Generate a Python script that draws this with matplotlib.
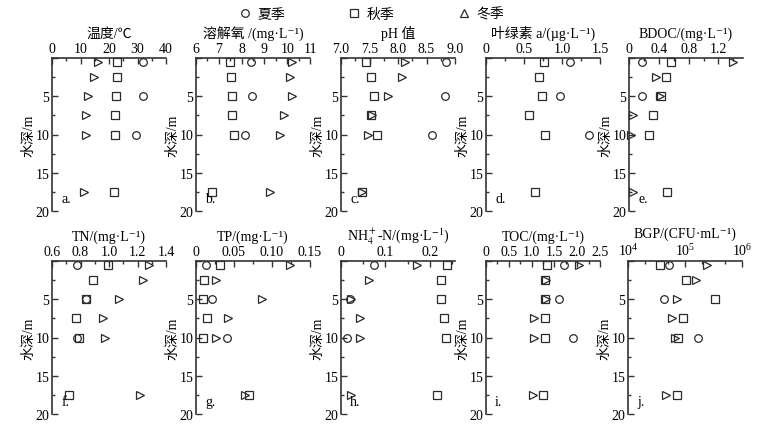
import numpy as np
import matplotlib
matplotlib.use('Agg')
import matplotlib.pyplot as plt
from matplotlib.ticker import MultipleLocator, FixedLocator, LogLocator, NullFormatter
from matplotlib.lines import Line2D

plt.rcParams['font.family'] = ['Liberation Serif', 'Noto Sans CJK SC', 'DejaVu Serif']
plt.rcParams['mathtext.fontset'] = 'stix'
plt.rcParams['font.size'] = 10

# 采样深度 /m
depth_all = [0.5, 2.5, 5, 7.5, 10, 17.5]
depth_sum = [0.5, 5, 10]

# 各指标 夏季(3点) 秋季(6点) 冬季(6点)
temp_sum = [31.8, 31.8, 29.6]
temp_aut = [22.9, 22.8, 22.4, 22.1, 22.1, 21.9]
temp_win = [16.0, 14.6, 12.7, 11.8, 11.8, 11.4]

do_sum = [8.40, 8.44, 8.15]
do_aut = [7.51, 7.53, 7.60, 7.59, 7.67, 6.68]
do_win = [10.23, 10.13, 10.19, 9.88, 9.68, 9.26]

ph_sum = [8.85, 8.83, 8.60]
ph_aut = [7.44, 7.52, 7.58, 7.52, 7.64, 7.36]
ph_win = [8.13, 8.07, 7.82, 7.55, 7.47, 7.37]

chl_sum = [1.10, 0.97, 1.35]
chl_aut = [0.76, 0.70, 0.74, 0.56, 0.77, 0.64]

bdoc_sum = [0.18, 0.18, None]
bdoc_aut = [0.56, 0.50, 0.43, 0.32, 0.27, 0.51]
bdoc_win = [1.40, 0.36, 0.42, 0.06, 0.03, 0.06]

tn_sum = [0.775, 0.836, 0.775]
tn_aut = [0.99, 0.89, 0.84, 0.77, 0.79, 0.72]
tn_win = [1.28, 1.24, 1.07, 0.96, 0.97, 1.22]

tp_sum = [0.0126, 0.0214, 0.041]
tp_aut = [0.0314, 0.0105, 0.0096, 0.014, 0.0096, 0.070]
tp_win = [0.124, 0.0257, 0.087, 0.042, 0.0257, 0.064]

nh4_sum = [0.075, 0.021, 0.013]
nh4_aut = [0.239, 0.225, 0.225, 0.232, 0.237, 0.216]
nh4_win = [0.172, 0.064, 0.023, 0.042, 0.042, 0.023]

toc_sum = [1.70, 1.59, 1.91]
toc_aut = [1.34, 1.30, 1.29, 1.30, 1.29, 1.26]
toc_win = [2.03, 1.31, 1.32, 1.06, 1.06, 1.03]

bgp_sum = [5.2e4, 4.3e4, 1.66e5]
bgp_aut = [3.6e4, 1.06e5, 3.3e5, 9.2e4, 7.6e4, 7.1e4]
bgp_win = [2.46e5, 1.59e5, 7.3e4, 5.9e4, 6.6e4, 4.7e4]

fig = plt.figure(figsize=(7.57, 4.31), dpi=100)
W, H = 757, 431
ec = '#2a2a2a'
ms = 5.5

def make_ax(left, top, xlim, xlabel, letter, major, minor, fmt=None, log=False):
    ax = fig.add_axes([left / W, 1 - (top + 153) / H, 114 / W, 153 / H])
    if log:
        ax.set_xscale('log')
    ax.set_xlim(*xlim)
    ax.set_ylim(20, 0)
    ax.spines['right'].set_visible(False)
    ax.spines['bottom'].set_visible(False)
    for s in ['top', 'left']:
        ax.spines[s].set_linewidth(1.2)
        ax.spines[s].set_color('#333333')
    ax.xaxis.set_ticks_position('top')
    ax.xaxis.set_label_position('top')
    if not log:
        ax.xaxis.set_major_locator(FixedLocator(major))
        ax.xaxis.set_minor_locator(MultipleLocator(minor))
        if fmt is not None:
            ax.set_xticklabels(fmt)
    ax.yaxis.set_major_locator(FixedLocator([0, 5, 10, 15, 20]))
    ax.set_yticklabels(['', '5', '10', '15', '20'])
    ax.yaxis.set_minor_locator(MultipleLocator(2.5))
    ax.tick_params(which='both', direction='in', color='#333333', width=1)
    ax.tick_params(which='major', length=4, pad=2)
    ax.tick_params(which='minor', length=2.5)
    ax.set_xlabel(xlabel, labelpad=4)
    ax.set_ylabel('水深/m', labelpad=0)
    ax.text(0.08, 0.06, letter, transform=ax.transAxes, fontsize=10)
    ax.set_facecolor('none')
    return ax

def draw(ax, s=None, a=None, w=None):
    if s is not None:
        xs = [v for v in s if v is not None]
        ds = [d for v, d in zip(s, depth_sum) if v is not None]
        ax.plot(xs, ds, 'o', ms=ms, mfc='none', mec=ec, mew=0.9, clip_on=False)
    if a is not None:
        ax.plot(a, depth_all, 's', ms=ms, mfc='none', mec=ec, mew=0.9, clip_on=False)
    if w is not None:
        ax.plot(w, depth_all, '>', ms=ms, mfc='none', mec=ec, mew=0.9, clip_on=False)

top1, top2 = 59, 262
ax = make_ax(52, top1, (0, 40), '温度/℃', 'a.', [0, 10, 20, 30, 40], 5)
draw(ax, temp_sum, temp_aut, temp_win)
ax = make_ax(196, top1, (6, 11), '溶解氧 /(mg·L⁻¹)', 'b.', [6, 7, 8, 9, 10, 11], 0.5)
draw(ax, do_sum, do_aut, do_win)
ax = make_ax(341, top1, (7.0, 9.0), 'pH 值', 'c.', [7.0, 7.5, 8.0, 8.5, 9.0], 0.25,
             ['7.0', '7.5', '8.0', '8.5', '9.0'])
draw(ax, ph_sum, ph_aut, ph_win)
ax = make_ax(486, top1, (0, 1.5), '叶绿素 a/(µg·L⁻¹)', 'd.', [0, 0.5, 1.0, 1.5], 0.25,
             ['0', '0.5', '1.0', '1.5'])
draw(ax, chl_sum, chl_aut)
ax = make_ax(629, top1, (0, 1.53), 'BDOC/(mg·L⁻¹)', 'e.', [0, 0.4, 0.8, 1.2], 0.2,
             ['0', '0.4', '0.8', '1.2'])
draw(ax, bdoc_sum, bdoc_aut, bdoc_win)

ax = make_ax(52, top2, (0.6, 1.4), 'TN/(mg·L⁻¹)', 'f.', [0.6, 0.8, 1.0, 1.2, 1.4], 0.1,
             ['0.6', '0.8', '1.0', '1.2', '1.4'])
draw(ax, tn_sum, tn_aut, tn_win)
ax = make_ax(196, top2, (0, 0.15), 'TP/(mg·L⁻¹)', 'g.', [0, 0.05, 0.10, 0.15], 0.025,
             ['0', '0.05', '0.10', '0.15'])
draw(ax, tp_sum, tp_aut, tp_win)
ax = make_ax(341, top2, (0, 0.257), 'NH$_4^+$-N/(mg·L$^{-1}$)', 'h.', [0, 0.1, 0.2], 0.05,
             ['0', '0.1', '0.2'])
draw(ax, nh4_sum, nh4_aut, nh4_win)
ax = make_ax(486, top2, (0, 2.5), 'TOC/(mg·L⁻¹)', 'i.', [0, 0.5, 1.0, 1.5, 2.0, 2.5], 0.25,
             ['0', '0.5', '1.0', '1.5', '2.0', '2.5'])
draw(ax, toc_sum, toc_aut, toc_win)
ax = make_ax(628, top2, (1e4, 1e6), 'BGP/(CFU·mL⁻¹)', 'j.', None, None, log=True)
ax.xaxis.set_major_locator(LogLocator(base=10, numticks=5))
ax.xaxis.set_minor_locator(LogLocator(base=10, subs=[2, 5], numticks=10))
ax.xaxis.set_minor_formatter(NullFormatter())
draw(ax, bgp_sum, bgp_aut, bgp_win)

handles = [Line2D([], [], ls='none', marker=m, ms=ms, mfc='none', mec=ec, mew=0.9)
           for m in ['o', 's', '^']]
fig.legend(handles, ['夏季', '秋季', '冬季'], loc='center', bbox_to_anchor=(0.49, 0.965),
           ncol=3, frameon=False, columnspacing=4.5, handletextpad=0.4, handlelength=1.0)

fig.savefig('out.png', dpi=100)
